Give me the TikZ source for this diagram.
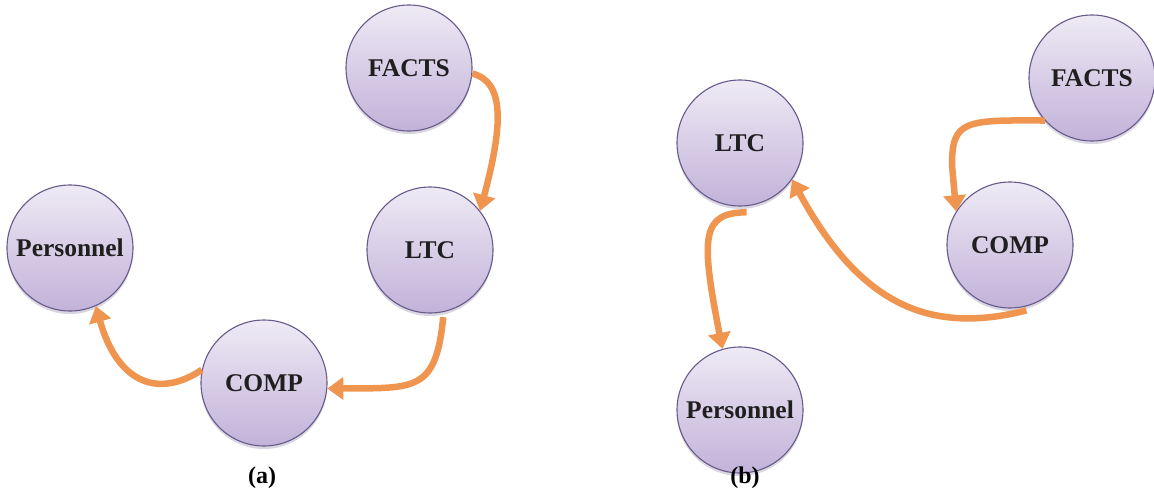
\documentclass[tikz,border=0pt]{standalone}
\usepackage{fontspec}
\setmainfont{Liberation Serif}
\usetikzlibrary{arrows.meta,shadows}
\definecolor{circtop}{HTML}{EEEAF5}
\definecolor{circbot}{HTML}{C2B2D9}
\definecolor{circline}{HTML}{685A8A}
\definecolor{arr}{HTML}{EF9550}
\begin{document}
\begin{tikzpicture}[x=1pt,y=-1pt,
  state/.style={circle, minimum size=126pt, inner sep=0pt, draw=circline, line width=1.1pt,
    top color=circtop, bottom color=circbot, font=\fontsize{25.5}{25.5}\selectfont\bfseries,
    text=black!88, drop shadow={shadow xshift=0pt, shadow yshift=-3pt, opacity=0.25, fill=circline}},
  flow/.style={draw=arr, line width=6.5pt, -{Triangle[width=22pt,length=16pt]}},
  sublabel/.style={font=\fontsize{24}{24}\selectfont\bfseries}]
\useasboundingbox (0,0) rectangle (1154,498);
% (a)
\node[state] (factsA) at (409,68) {FACTS};
\node[state] (ltcA) at (430,250) {LTC};
\node[state] (compA) at (264,383) {COMP};
\node[state] (persA) at (70,248) {Personnel};
\node[sublabel] (labA) at (262,478) {(a)};
% (b)
\node[state] (factsB) at (1092,78) {FACTS};
\node[state] (compB) at (1010,245) {COMP};
\node[state] (ltcB) at (740,143) {LTC};
\node[state] (persB) at (740,410) {Personnel};
\node[sublabel] (labB) at (745,478) {(b)};
% arrows (a)
\draw[flow] (factsA.-5) .. controls (505,82) and (503,125) .. (ltcA.38);
\draw[flow] ([yshift=-5pt]ltcA.-78) .. controls (436,392) and (415,388) .. (compA.-5);
\draw[flow] (compA.168) .. controls (160,398) and (118,385) .. (persA.-66);
% arrows (b)
\draw[flow] (factsB.222) .. controls (965,120) and (952,120) .. (952,165) -- (compB.148);
\draw[flow] ([yshift=-4pt]compB.-75) .. controls (930,335) and (860,305) .. (ltcB.-35);
\draw[flow] ([yshift=-6pt]ltcB.-84) .. controls (702,213) and (700,235) .. (persB.106);
\end{tikzpicture}
\end{document}
